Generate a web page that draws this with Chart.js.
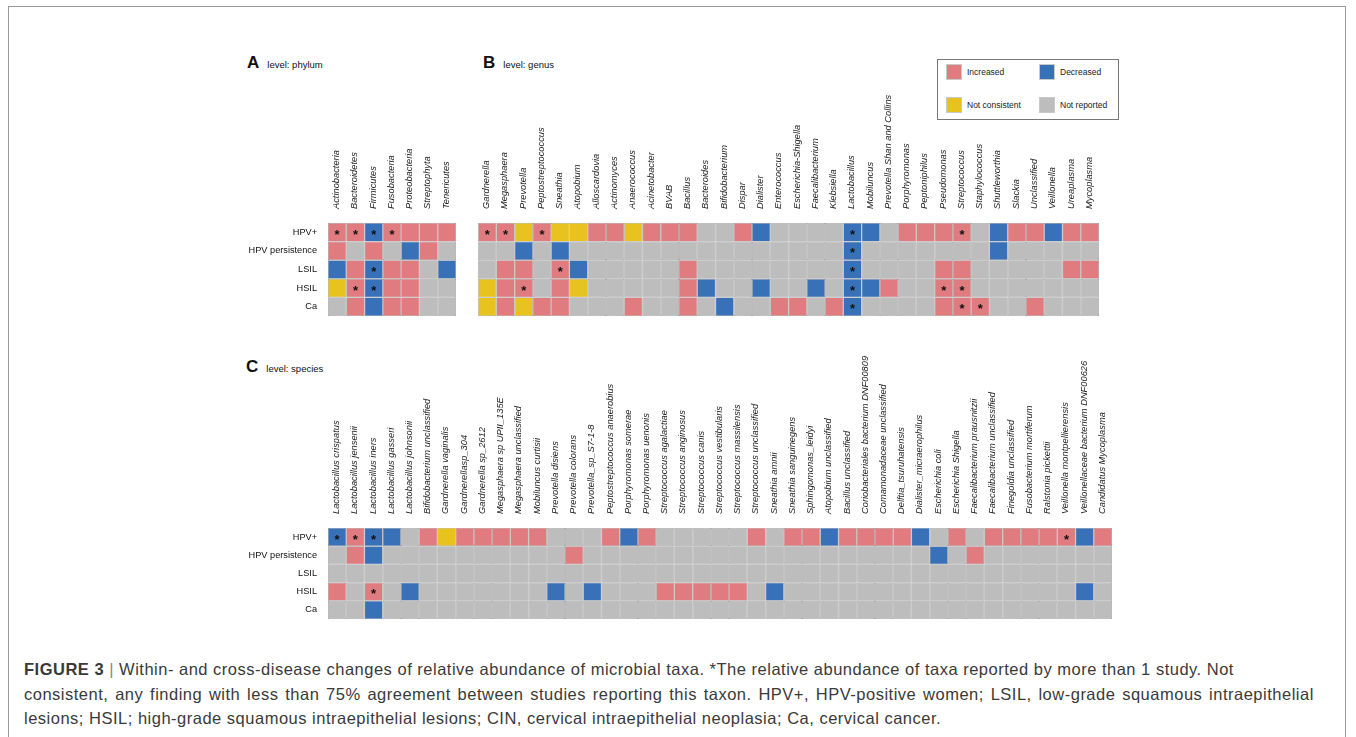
<!DOCTYPE html>
<html>
<head>
<meta charset="utf-8">
<script src="https://cdn.jsdelivr.net/npm/chart.js@4.4.1/dist/chart.umd.min.js"></script>
<style>
  body { margin: 0; background: #fff; font-family: "Liberation Sans", Arial, sans-serif; }
  #page { position: relative; width: 1356px; height: 737px; overflow: hidden; }
  #frame { position: absolute; left: 8px; top: 6px; width: 1336px; height: 760px; border: 1.5px solid #9a9a9a; }
  canvas { position: absolute; }
  .panel { position: absolute; color: #111; }
  .panel b { font-size: 17px; margin-right: 8px; }
  .panel span { font-size: 9.5px; }
  #legend { position: absolute; left: 937px; top: 59px; width: 180px; height: 59px; border: 1px solid #777; background: #fff; }
  .leg { position: absolute; font-size: 8.5px; color: #222; }
  .leg i { position: absolute; width: 16px; height: 16px; left: 0; top: 0; border: 1px solid #c9c9c9; box-sizing: border-box; }
  .leg em { position: absolute; left: 21px; top: 3px; font-style: normal; white-space: nowrap; }
  #caption { position: absolute; left: 24px; top: 657px; font-size: 16.5px; letter-spacing: 0.5px; line-height: 24.5px; color: #3a3a3a; white-space: nowrap; }
  #caption .sep { color: #888; }
  #caption .l2 { word-spacing: 1.7px; }
</style>
</head>
<body>
<div id="page">
  <div id="frame"></div>
  <div class="panel" style="left:247px; top:53px;"><b>A</b><span>level: phylum</span></div>
  <div class="panel" style="left:483px; top:53px;"><b>B</b><span>level: genus</span></div>
  <div class="panel" style="left:246px; top:357px;"><b>C</b><span>level: species</span></div>
  <canvas id="phylumChart" width="246" height="268" style="left:220px; top:60px;"></canvas>
  <canvas id="genusChart" width="639" height="268" style="left:470px; top:60px;"></canvas>
  <canvas id="speciesChart" width="902" height="291" style="left:220px; top:340px;"></canvas>
  <div id="legend"></div>
  <div id="caption"><b>FIGURE 3</b> <span class="sep">|</span> Within- and cross-disease changes of relative abundance of microbial taxa. *The relative abundance of taxa reported by more than 1 study. Not<br><span class="l2">consistent, any finding with less than 75% agreement between studies reporting this taxon. HPV+, HPV-positive women; LSIL, low-grade squamous intraepithelial</span><br>lesions; HSIL; high-grade squamous intraepithelial lesions; CIN, cervical intraepithelial neoplasia; Ca, cervical cancer.</div>
</div>
<script>
// I = increased, D = decreased, N = not consistent, G = not reported, * = reported by >1 study
const rowNames = ['HPV+', 'HPV persistence', 'LSIL', 'HSIL', 'Ca'];

const statusCodes = ['I', 'D', 'N', 'G'];
const statusLabels = ['Increased', 'Decreased', 'Not consistent', 'Not reported'];
const statusColors = { I: '#e07b7f', D: '#3871b8', N: '#e8c21e', G: '#bdbdbd' };

const phylumTaxa = ['Actinobacteria', 'Bacteroidetes', 'Firmicutes', 'Fusobacteria', 'Proteobacteria', 'Streptophyta', 'Tenericutes'];
const phylumStatus = [
    'I* I* D* I* I I I',
    'I G I G D I G',
    'D I D* I I G D',
    'N I* D* I I G G',
    'G I D I I G G'
];

const genusTaxa = ['Gardnerella', 'Megasphaera', 'Prevotella', 'Peptostreptococcus', 'Sneathia', 'Atopobium',
    'Alloscardovia', 'Actinomyces', 'Anaerococcus', 'Acinetobacter', 'BVAB', 'Bacillus', 'Bacteroides',
    'Bifidobacterium', 'Dispar', 'Dialister', 'Enterococcus', 'Escherichia-Shigella', 'Faecalibacterium',
    'Klebsiella', 'Lactobacillus', 'Mobiluncus', 'Prevotella Shan and Collins', 'Porphyromonas', 'Peptoniphilus',
    'Pseudomonas', 'Streptococcus', 'Staphylococcus', 'Shuttleworthia', 'Slackia', 'Unclassified', 'Veillonella',
    'Ureaplasma', 'Mycoplasma'];
const genusStatus = [
    'I* I* N I* N N I I N I I I G G I D G G G G D* D G I I I I* G D I I D I I',
    'G G D G D G G G G G G G G G G G G G G G D* G G G G G G G D G G G G G',
    'G I I G I* D G G G G G I G G G G G G G G D* G G G G I I G G G G G I I',
    'N I I* G I N G G G G G I D G G D G G D G D* D I G G I* I* G G G G G G G',
    'N I N I I G G G I G G I G D G G I I G I D* G G G G I I* I* G G I G G G'
];

const speciesTaxa = ['Lactobacillus crispatus', 'Lactobacillus jensenii', 'Lactobacillus iners', 'Lactobacillus gasseri',
    'Lactobacillus johnsonii', 'Bifidobacterium unclassified', 'Gardnerella vaginalis', 'Gardnerellasp_304',
    'Gardnerella sp_2612', 'Megasphaera sp UPII_135E', 'Megasphaera unclassified', 'Mobiluncus curtisii',
    'Prevotella disiens', 'Prevotella colorans', 'Prevotella_sp_S7-1-8', 'Peptostreptococcus anaerobius',
    'Porphyromonas somerae', 'Porphyromonas uenonis', 'Streptococcus agalactiae', 'Streptococcus anginosus',
    'Streptococcus canis', 'Streptococcus vestibularis', 'Streptococcus massilensis', 'Streptococcus unclassified',
    'Sneathia amnii', 'Sneathia sanguinegens', 'Sphingomonas_leidyi', 'Atopobium unclassified', 'Bacillus unclassified',
    'Coriobacteriales bacterium DNF00809', 'Comamonadaceae unclassified', 'Delftia_tsuruhatensis',
    'Dialister_micraerophilus', 'Escherichia coli', 'Escherichia Shigella', 'Faecalibacterium prausnitzii',
    'Faecalibacterium unclassified', 'Finegoldia unclassified', 'Fusobacterium mortiferum', 'Ralstonia pickettii',
    'Veillonella montpellierensis', 'Veillonellaceae bacterium DNF00626', 'Candidatus Mycoplasma'];
const speciesStatus = [
    'D* I* D* D G I N I I I I I G G G I D I G G G G G I G I I D I I I I D G I G I I I I I* D I',
    'G I D G G G G G G G G G G I G G G G G G G G G G G G G G G G G G G D G I G G G G G G G',
    'G G G G G G G G G G G G G G G G G G G G G G G G G G G G G G G G G G G G G G G G G G G',
    'I G I* G D G G G G G G G D G D G G G I I I I I G D G G G G G G G G G G G G G G G G D G',
    'G G D G G G G G G G G G G G G G G G G G G G G G G G G G G G G G G G G G G G G G G G G'
];

const fontFamily = '"Liberation Sans", Arial, sans-serif';

const starPlugin = {
    id: 'stars',
    afterDatasetsDraw(chart) {
        const ctx = chart.ctx;
        const rows = chart.config.options.statusRows;
        ctx.save();
        ctx.fillStyle = '#111';
        ctx.font = 'bold 13px ' + fontFamily;
        ctx.textAlign = 'center';
        ctx.textBaseline = 'middle';
        chart.data.datasets.forEach((ds, r) => {
            chart.getDatasetMeta(r).data.forEach((bar, c) => {
                if (rows[r][c].endsWith('*')) {
                    ctx.fillText('*', bar.x, (bar.y + bar.base) / 2 + 3);
                }
            });
        });
        ctx.restore();
    }
};

function makeHeatmap(canvasId, taxa, statusStrings, opts) {
    const rows = statusStrings.map(s => s.split(' '));
    return new Chart(document.getElementById(canvasId), {
        type: 'bar',
        data: {
            labels: taxa,
            datasets: rowNames.map((name, r) => ({
                label: name,
                data: taxa.map(() => 1),
                backgroundColor: rows[r].map(s => statusColors[s[0]]),
                borderColor: '#8a8a8a',
                borderWidth: 0.6,
                borderSkipped: false,
                inflateAmount: 0,
                barPercentage: 1,
                categoryPercentage: 1
            }))
        },
        options: {
            statusRows: rows,
            responsive: false,
            animation: false,
            events: [],
            // bottom padding kept larger than the half-height of the last row label
            layout: { padding: { left: opts.showRows ? 0 : 6, right: 10, top: 0, bottom: 12 } },
            plugins: { legend: { display: false }, tooltip: { enabled: false } },
            scales: {
                x: {
                    position: 'top',
                    stacked: true,
                    grid: { display: false },
                    border: { display: false },
                    ticks: {
                        minRotation: 90, maxRotation: 90, autoSkip: false, padding: 6, labelOffset: 10.5,
                        color: '#222',
                        font: { family: fontFamily, size: 9.3, style: 'italic' }
                    },
                    afterFit: scale => { scale.height = opts.topHeight; }
                },
                y: {
                    display: opts.showRows,
                    stacked: true,
                    reverse: true,
                    min: 0,
                    max: rowNames.length,
                    grid: { display: false },
                    border: { display: false },
                    afterBuildTicks: scale => { scale.ticks = rowNames.map((n, i) => ({ value: i + 0.5 })); },
                    ticks: {
                        autoSkip: false, padding: 3, color: '#111',
                        font: { family: fontFamily, size: 9.2 },
                        callback: (value, index) => rowNames[index]
                    },
                    afterFit: scale => { scale.width = opts.showRows ? 108 : 0; }
                }
            }
        },
        plugins: [starPlugin]
    });
}

makeHeatmap('phylumChart', phylumTaxa, phylumStatus, { showRows: true, topHeight: 163 });
makeHeatmap('genusChart', genusTaxa, genusStatus, { showRows: false, topHeight: 163 });
makeHeatmap('speciesChart', speciesTaxa, speciesStatus, { showRows: true, topHeight: 188 });

// legend box
const legendPos = [[8, 4], [101, 4], [8, 37], [101, 37]];
document.getElementById('legend').innerHTML = statusCodes.map((code, i) => `
    <div class="leg" style="left:${legendPos[i][0]}px; top:${legendPos[i][1]}px;">
        <i style="background:${statusColors[code]};"></i><em>${statusLabels[i]}</em>
    </div>`).join('');
</script>
</body>
</html>
